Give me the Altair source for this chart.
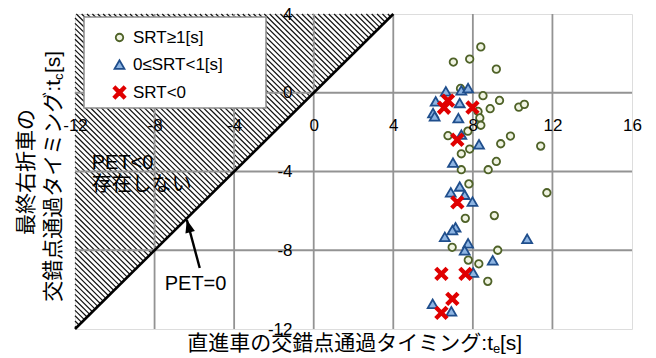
import altair as alt
import pandas as pd
import numpy as np

# ---------------- data ----------------
cats = ["SRT≥1[s]", "0≤SRT<1[s]", "SRT<0"]

srt_ge1_x = [8.40, 7.02, 7.84, 9.18, 7.38, 8.51, 9.34, 8.87, 10.31, 10.59, 8.26, 8.35,
             8.40, 7.75, 6.75, 9.89, 9.40, 11.41, 7.84, 7.42, 9.18, 8.77, 7.42, 7.80,
             11.72, 7.62, 9.08, 6.96, 9.25, 7.77, 8.30, 8.75]
srt_ge1_y = [2.33, 1.56, 1.71, 1.20, 0.22, -0.15, -0.39, -0.81, -0.73, -0.59, -0.95, -1.28,
             -1.65, -1.95, -2.18, -2.20, -2.59, -2.71, -2.86, -3.10, -3.49, -3.91, -3.91, -4.63,
             -5.08, -6.38, -6.24, -7.85, -8.00, -8.50, -8.69, -9.58]

srt_01_x = [6.64, 7.42, 7.76, 6.13, 7.34, 6.00, 6.08, 7.27, 7.42, 8.31, 7.00, 6.89, 7.34,
            7.59, 7.98, 7.13, 6.97, 6.59, 10.73, 7.76, 7.59, 9.00, 8.02, 5.98, 6.92]
srt_01_y = [0.07, 0.12, 0.24, -0.44, -0.52, -1.03, -1.20, -1.29, -2.13, -2.62, -3.55, -5.06, -4.76,
            -5.18, -5.53, -6.83, -6.98, -7.32, -7.42, -7.65, -8.00, -8.51, -9.13, -10.72, -11.10]

srt_neg_x = [6.75, 6.55, 7.98, 7.22, 7.22, 6.42, 7.63, 6.97, 6.42]
srt_neg_y = [-0.40, -0.76, -0.75, -2.39, -5.57, -9.20, -9.20, -10.47, -11.18]

x_ticks = [-12, -8, -4, 0, 4, 8, 12, 16]
y_ticks = [-12, -8, -4, 0, 4]

note_text = ["PET<0", "存在しない", "PET=0"]
note_x = [-11.16, -11.16, -7.49]
note_y = [-3.55, -4.67, -9.70]

arrow_x = [-5.73, -6.38]
arrow_y = [-8.90, -6.45]

# ---------------- tables ----------------
pts = pd.DataFrame({
    "x": srt_ge1_x + srt_01_x + srt_neg_x,
    "y": srt_ge1_y + srt_01_y + srt_neg_y,
    "cat": [cats[0]] * len(srt_ge1_x) + [cats[1]] * len(srt_01_x) + [cats[2]] * len(srt_neg_x),
})
pts["order"] = pts["cat"].map({c: i for i, c in enumerate(cats)})

# hatch lines x + y = c inside the triangle y >= x (decoration)
step = 0.27
cs = np.arange(-24 + step / 2, 8, step)
hatch = pd.DataFrame({
    "x1": np.where(cs >= -8, cs - 4, -12),
    "y1": np.where(cs >= -8, 4, cs + 12),
    "x2": cs / 2,
    "y2": cs / 2,
})

diag = pd.DataFrame({"x": [-12, 4], "y": [-12, 4]})
gx = pd.DataFrame({"v": x_ticks[1:-1]})
gy = pd.DataFrame({"v": y_ticks[1:-1]})
notes = pd.DataFrame({"x": note_x, "y": note_y, "t": note_text})
arrow = pd.DataFrame({"x": arrow_x, "y": arrow_y})
arrow_tip = pd.DataFrame({"x": [arrow_x[1]], "y": [arrow_y[1]]})
one = pd.DataFrame({"a": [0]})

# ---------------- styling ----------------
W, H = 557, 315
FONT = "Liberation Sans, Arial, sans-serif"
JFONT = "Liberation Sans, Noto Sans CJK JP, sans-serif"
GRID = "#939393"

xs = alt.Scale(domain=[-12, 16], nice=False, zero=False)
ys = alt.Scale(domain=[-12, 4], nice=False, zero=False)
xaxis = alt.Axis(values=x_ticks, title=None, grid=False, domain=False, ticks=False, tickSize=0,
                 labelPadding=0, offset=-212, labelFontSize=17, labelFont=FONT, labelColor="black",
                 labelFlush=False, labelOverlap=False, labelExpr="'' + datum.value", zindex=1)
yaxis = alt.Axis(values=y_ticks, title=None, grid=False, domain=False, ticks=False, tickSize=0,
                 labelPadding=0, offset=-217, labelFontSize=17, labelFont=FONT, labelColor="black",
                 labelFlush=False, labelOverlap=False, labelExpr="'' + datum.value", zindex=1,
                 labelBaseline="middle")


def X(f):
    return alt.X(f, type="quantitative", scale=xs, axis=xaxis)


def Y(f):
    return alt.Y(f, type="quantitative", scale=ys, axis=yaxis)


hatch_l = alt.Chart(hatch).mark_rule(color="#111111", strokeWidth=1.2).encode(
    x=X("x1"), y=Y("y1"), x2="x2:Q", y2="y2:Q")

grid_x = alt.Chart(gx).mark_rule(color=GRID, strokeWidth=1.8).encode(x=X("v"))
grid_y = alt.Chart(gy).mark_rule(color=GRID, strokeWidth=1.8).encode(y=Y("v"))

diag_l = alt.Chart(diag).mark_line(color="black", strokeWidth=2.6).encode(x=X("x"), y=Y("y"))

X_PATH = "M-1,-0.7L-0.7,-1L0,-0.3L0.7,-1L1,-0.7L0.3,0L1,0.7L0.7,1L0,0.3L-0.7,1L-1,0.7L-0.3,0Z"

legend = alt.Legend(title=None, orient="none", legendX=36, legendY=15, labelFont=FONT,
                    labelFontSize=17, labelColor="black", rowPadding=9, labelOffset=5,
                    symbolStrokeWidth=1.8, padding=0)

points = alt.Chart(pts).mark_point(opacity=1, strokeWidth=1.8, filled=False).encode(
    x=X("x"), y=Y("y"),
    shape=alt.Shape("cat:N", scale=alt.Scale(domain=cats, range=["circle", "triangle-up", X_PATH]),
                    legend=legend),
    fill=alt.Fill("cat:N", scale=alt.Scale(domain=cats, range=["#f0f4e2", "#8db4e2", "#e00000"]),
                  legend=legend),
    stroke=alt.Stroke("cat:N", scale=alt.Scale(domain=cats, range=["#4f6228", "#1f4e8c", "#e00000"]),
                      legend=legend),
    size=alt.Size("cat:N", scale=alt.Scale(domain=cats, range=[56, 140, 95]), legend=legend),
    order=alt.Order("order:Q"),
)

legend_box = alt.Chart(one).mark_rect(fill="white", stroke="#8c8c8c", strokeWidth=1.5).encode(
    x=alt.value(9), x2=alt.value(191), y=alt.value(3), y2=alt.value(94))

notes_l = alt.Chart(notes).mark_text(align="left", baseline="middle", fontSize=20, font=JFONT,
                                      color="black").encode(x=X("x"), y=Y("y"), text="t:N")

arrow_l = alt.Chart(arrow).mark_line(color="black", strokeWidth=2.4).encode(x=X("x"), y=Y("y"))
ARROW_PATH = "M0,0L-0.45,1.2L0.45,1.2Z"
arrow_h = alt.Chart(arrow_tip).mark_point(shape=ARROW_PATH, size=470, filled=True, color="black",
                                          opacity=1, angle=345).encode(x=X("x"), y=Y("y"))

# axis titles (with subscripts) as text
TS = 21
xt_main = alt.Chart(one).mark_text(text="直進車の交錯点通過タイミング:t", align="right", baseline="middle",
                                   fontSize=TS, font=JFONT, color="black").encode(
    x=alt.value(418), y=alt.value(330))
xt_sub = alt.Chart(one).mark_text(text="e", align="left", baseline="middle", fontSize=13, font=FONT,
                                  color="black").encode(x=alt.value(418), y=alt.value(335))
xt_end = alt.Chart(one).mark_text(text="[s]", align="left", baseline="middle", fontSize=TS, font=FONT,
                                  color="black").encode(x=alt.value(425), y=alt.value(330))

yt_l1 = alt.Chart(one).mark_text(text="最終右折車の", align="center", baseline="middle", angle=270,
                                 fontSize=TS, font=JFONT, color="black").encode(
    x=alt.value(-48), y=alt.value(158))
yt_main = alt.Chart(one).mark_text(text="交錯点通過タイミング:t", align="right", baseline="middle", angle=270,
                                   fontSize=TS, font=JFONT, color="black").encode(
    x=alt.value(-21), y=alt.value(66))
yt_sub = alt.Chart(one).mark_text(text="c", align="left", baseline="middle", angle=270,
                                  fontSize=13, font=FONT, color="black").encode(
    x=alt.value(-16), y=alt.value(66))
yt_end = alt.Chart(one).mark_text(text="[s]", align="left", baseline="middle", angle=270,
                                  fontSize=TS, font=FONT, color="black").encode(
    x=alt.value(-21), y=alt.value(59))

chart = alt.layer(
    hatch_l, grid_x, grid_y, diag_l, arrow_l, arrow_h, notes_l, points, legend_box,
    xt_main, xt_sub, xt_end, yt_l1, yt_main, yt_sub, yt_end,
).properties(
    width=W, height=H,
    autosize=alt.AutoSizeParams(type="none"),
    padding={"left": 67, "top": 6, "right": 16, "bottom": 26},
).configure_view(
    stroke="#8c8c8c", strokeWidth=2,
).configure(background="white")

chart.save("out.html", embed_options={"renderer": "svg", "actions": False})
